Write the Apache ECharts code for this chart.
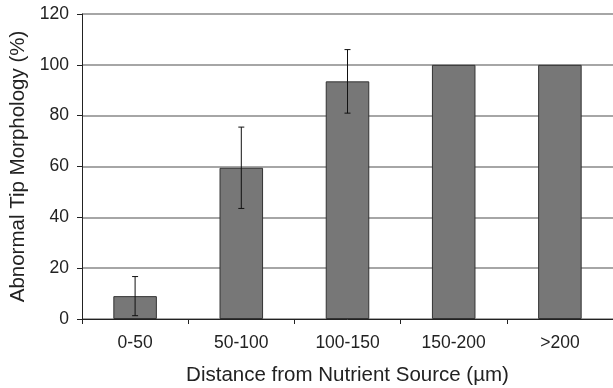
<!DOCTYPE html>
<html><head><meta charset="utf-8">
<script src="https://cdn.jsdelivr.net/npm/echarts@6/dist/echarts.min.js"></script>
<style>html,body{margin:0;padding:0;background:#fff}#c{width:613px;height:388px}</style>
</head><body><div id="c"></div>
<script>
const categories = ['0-50', '50-100', '100-150', '150-200', '>200'];
const values = [9, 59.5, 93.5, 100, 100];
const errors = [7.7, 16, 12.5, 0, 0];
const yTicks = { min: 0, max: 120, interval: 20 };

const chart = echarts.init(document.getElementById('c'));
const font = 'Liberation Sans, Arial, sans-serif';
chart.setOption({
  animation: false,
  grid: { left: 82, right: 0, top: 14, bottom: 69, containLabel: false, outerBoundsMode: 'none' },
  xAxis: {
    type: 'category', data: categories,
    name: 'Distance from Nutrient Source (µm)', nameLocation: 'middle', nameGap: 46,
    nameTextStyle: { fontFamily: font, fontSize: 20.5, color: '#222' },
    axisLine: { lineStyle: { color: '#222', width: 1 } },
    axisTick: { show: true, length: 5, lineStyle: { color: '#222' } },
    axisLabel: { fontFamily: font, fontSize: 17.5, color: '#222', margin: 15 },
    splitLine: { show: false }
  },
  yAxis: {
    type: 'value', min: yTicks.min, max: yTicks.max, interval: yTicks.interval,
    name: 'Abnormal Tip Morphology (%)', nameLocation: 'middle', nameGap: 50,
    nameTextStyle: { fontFamily: font, fontSize: 20.5, color: '#222' },
    axisLine: { show: true, lineStyle: { color: '#222', width: 1 } },
    axisTick: { show: true, length: 5, lineStyle: { color: '#222' } },
    axisLabel: { fontFamily: font, fontSize: 17.5, color: '#222', margin: 13 },
    splitLine: { show: true, lineStyle: { color: '#888', width: 1.5 } }
  },
  series: [
    {
      type: 'bar', data: values, barWidth: '41%',
      itemStyle: { color: '#777777', borderColor: '#333', borderWidth: 1 },
      z: 2
    },
    {
      type: 'custom', z: 3,
      data: values.map((v, i) => [i, v, errors[i]]),
      renderItem: function (params, api) {
        const i = api.value(0), v = api.value(1), e = api.value(2);
        if (!e) return null;
        const top = api.coord([i, v + e]);
        const bot = api.coord([i, v - e]);
        const hw = 3;
        const st = { stroke: '#111', lineWidth: 1 };
        return {
          type: 'group',
          children: [
            { type: 'line', shape: { x1: top[0], y1: top[1], x2: bot[0], y2: bot[1] }, style: st },
            { type: 'line', shape: { x1: top[0] - hw, y1: top[1], x2: top[0] + hw, y2: top[1] }, style: st },
            { type: 'line', shape: { x1: bot[0] - hw, y1: bot[1], x2: bot[0] + hw, y2: bot[1] }, style: st }
          ]
        };
      }
    }
  ]
});
</script></body></html>
